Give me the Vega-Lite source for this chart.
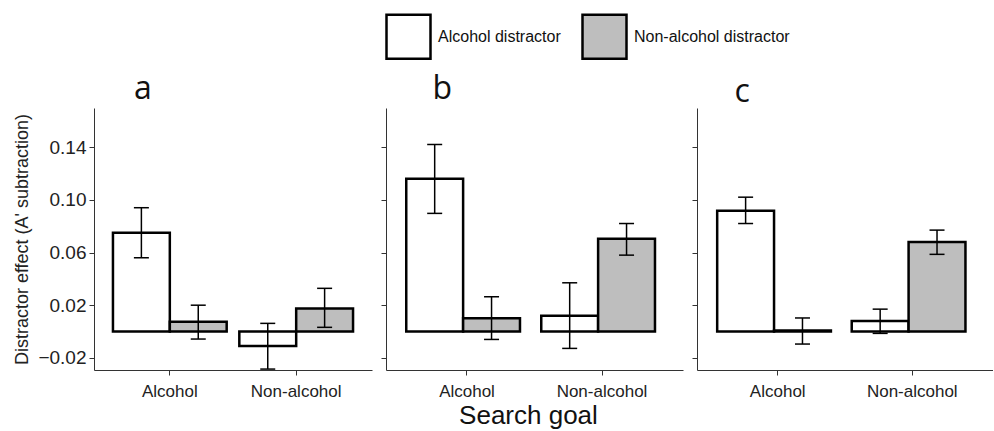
{
  "$schema": "https://vega.github.io/schema/vega-lite/v6.json",
  "background": "white",
  "padding": {"left": 13, "top": 13, "right": 0, "bottom": 0},
  "spacing": 8,
  "datasets": {
    "d": [
      {"panel": "a", "goal": "Alcohol", "distractor": "Alcohol distractor", "value": 0.075, "lo": 0.056, "hi": 0.094},
      {"panel": "a", "goal": "Alcohol", "distractor": "Non-alcohol distractor", "value": 0.0074, "lo": -0.0057, "hi": 0.020},
      {"panel": "a", "goal": "Non-alcohol", "distractor": "Alcohol distractor", "value": -0.011, "lo": -0.0285, "hi": 0.0062},
      {"panel": "a", "goal": "Non-alcohol", "distractor": "Non-alcohol distractor", "value": 0.0175, "lo": 0.0032, "hi": 0.0328},
      {"panel": "b", "goal": "Alcohol", "distractor": "Alcohol distractor", "value": 0.116, "lo": 0.0897, "hi": 0.142},
      {"panel": "b", "goal": "Alcohol", "distractor": "Non-alcohol distractor", "value": 0.010, "lo": -0.006, "hi": 0.0264},
      {"panel": "b", "goal": "Non-alcohol", "distractor": "Alcohol distractor", "value": 0.012, "lo": -0.0128, "hi": 0.037},
      {"panel": "b", "goal": "Non-alcohol", "distractor": "Non-alcohol distractor", "value": 0.0705, "lo": 0.058, "hi": 0.082},
      {"panel": "c", "goal": "Alcohol", "distractor": "Alcohol distractor", "value": 0.0917, "lo": 0.082, "hi": 0.102},
      {"panel": "c", "goal": "Alcohol", "distractor": "Non-alcohol distractor", "value": 0.0008, "lo": -0.0095, "hi": 0.0103},
      {"panel": "c", "goal": "Non-alcohol", "distractor": "Alcohol distractor", "value": 0.008, "lo": -0.0014, "hi": 0.017},
      {"panel": "c", "goal": "Non-alcohol", "distractor": "Non-alcohol distractor", "value": 0.068, "lo": 0.0586, "hi": 0.077}
    ]
  },
  "config": {
    "view": {"stroke": null},
    "font": "Liberation Sans",
    "axis": {
      "grid": false,
      "domainColor": "#333333",
      "tickColor": "#333333",
      "labelColor": "#222222",
      "titleColor": "#222222",
      "labelFont": "Liberation Sans",
      "titleFont": "Liberation Sans",
      "titleFontWeight": "normal",
      "tickSize": 5
    },
    "title": {"font": "Open Sans", "fontWeight": "normal", "fontSize": 32, "color": "#111111", "anchor": "start", "offset": 2},
    "legend": {
      "orient": "none",
      "legendX": 291,
      "legendY": -95,
      "direction": "horizontal",
      "symbolType": "square",
      "symbolSize": 1936,
      "symbolStrokeColor": "black",
      "symbolStrokeWidth": 2.5,
      "labelFontSize": 16,
      "labelFont": "Liberation Sans",
      "labelColor": "#111111",
      "labelOffset": 6,
      "columnPadding": 16,
      "title": null
    }
  },
  "resolve": {"scale": {"fill": "shared"}, "legend": {"fill": "shared"}},
  "title": {"text": "Search goal", "orient": "bottom", "anchor": "middle", "font": "Liberation Sans", "fontSize": 26, "fontWeight": "normal", "color": "#111111", "offset": 4, "dx": 25},
  "hconcat": [
    {
      "width": 278, "height": 262,
      "title": {"text": "a", "dx": 120},
      "data": {"name": "d"},
      "transform": [{"filter": "datum.panel == 'a'"}],
      "encoding": {
        "x": {"field": "goal", "type": "nominal", "sort": ["Alcohol", "Non-alcohol"], "scale": {"paddingInner": 0.1, "paddingOuter": 0.15}, "axis": {"title": null, "labelAngle": 0, "labelFontSize": 17, "labelPadding": 8}},
        "xOffset": {"field": "distractor", "type": "nominal", "sort": ["Alcohol distractor", "Non-alcohol distractor"]}
      },
      "layer": [
        {"mark": {"type": "bar", "stroke": "black", "strokeWidth": 2.5},
         "encoding": {
           "y": {"field": "value", "type": "quantitative", "scale": {"domain": [-0.0292, 0.1697], "nice": false, "zero": false}, "axis": {"values": [-0.02, 0.02, 0.06, 0.10, 0.14], "format": ".2f", "labelFontSize": 19, "title": "Distractor effect (A' subtraction)", "titleFontSize": 18, "titlePadding": 6, "labelPadding": 3}},
           "y2": {"datum": 0},
           "fill": {"field": "distractor", "type": "nominal", "scale": {"domain": ["Alcohol distractor", "Non-alcohol distractor"], "range": ["#ffffff", "#bebebe"]}}
         }},
        {"mark": {"type": "rule", "strokeWidth": 1.5, "color": "black"},
         "encoding": {"y": {"field": "lo", "type": "quantitative"}, "y2": {"field": "hi"}}},
        {"mark": {"type": "tick", "size": 15, "thickness": 1.5, "color": "black", "opacity": 1},
         "encoding": {"y": {"field": "lo", "type": "quantitative"}}},
        {"mark": {"type": "tick", "size": 15, "thickness": 1.5, "color": "black", "opacity": 1},
         "encoding": {"y": {"field": "hi", "type": "quantitative"}}}
      ]
    },
    {
      "width": 297, "height": 262,
      "title": {"text": "b", "dx": 52},
      "data": {"name": "d"},
      "transform": [{"filter": "datum.panel == 'b'"}],
      "encoding": {
        "x": {"field": "goal", "type": "nominal", "sort": ["Alcohol", "Non-alcohol"], "scale": {"paddingInner": 0.1, "paddingOuter": 0.15}, "axis": {"title": null, "labelAngle": 0, "labelFontSize": 17, "labelPadding": 8}},
        "xOffset": {"field": "distractor", "type": "nominal", "sort": ["Alcohol distractor", "Non-alcohol distractor"]}
      },
      "layer": [
        {"mark": {"type": "bar", "stroke": "black", "strokeWidth": 2.5},
         "encoding": {
           "y": {"field": "value", "type": "quantitative", "scale": {"domain": [-0.0292, 0.1697], "nice": false, "zero": false}, "axis": {"values": [-0.02, 0.02, 0.06, 0.10, 0.14], "labels": false, "title": null}},
           "y2": {"datum": 0},
           "fill": {"field": "distractor", "type": "nominal", "scale": {"domain": ["Alcohol distractor", "Non-alcohol distractor"], "range": ["#ffffff", "#bebebe"]}}
         }},
        {"mark": {"type": "rule", "strokeWidth": 1.5, "color": "black"},
         "encoding": {"y": {"field": "lo", "type": "quantitative"}, "y2": {"field": "hi"}}},
        {"mark": {"type": "tick", "size": 15, "thickness": 1.5, "color": "black", "opacity": 1},
         "encoding": {"y": {"field": "lo", "type": "quantitative"}}},
        {"mark": {"type": "tick", "size": 15, "thickness": 1.5, "color": "black", "opacity": 1},
         "encoding": {"y": {"field": "hi", "type": "quantitative"}}}
      ]
    },
    {
      "width": 296, "height": 262,
      "title": {"text": "c", "dx": 43, "offset": -1},
      "data": {"name": "d"},
      "transform": [{"filter": "datum.panel == 'c'"}],
      "encoding": {
        "x": {"field": "goal", "type": "nominal", "sort": ["Alcohol", "Non-alcohol"], "scale": {"paddingInner": 0.1, "paddingOuter": 0.15}, "axis": {"title": null, "labelAngle": 0, "labelFontSize": 17, "labelPadding": 8}},
        "xOffset": {"field": "distractor", "type": "nominal", "sort": ["Alcohol distractor", "Non-alcohol distractor"]}
      },
      "layer": [
        {"mark": {"type": "bar", "stroke": "black", "strokeWidth": 2.5},
         "encoding": {
           "y": {"field": "value", "type": "quantitative", "scale": {"domain": [-0.0292, 0.1697], "nice": false, "zero": false}, "axis": {"values": [-0.02, 0.02, 0.06, 0.10, 0.14], "labels": false, "title": null}},
           "y2": {"datum": 0},
           "fill": {"field": "distractor", "type": "nominal", "scale": {"domain": ["Alcohol distractor", "Non-alcohol distractor"], "range": ["#ffffff", "#bebebe"]}}
         }},
        {"mark": {"type": "rule", "strokeWidth": 1.5, "color": "black"},
         "encoding": {"y": {"field": "lo", "type": "quantitative"}, "y2": {"field": "hi"}}},
        {"mark": {"type": "tick", "size": 15, "thickness": 1.5, "color": "black", "opacity": 1},
         "encoding": {"y": {"field": "lo", "type": "quantitative"}}},
        {"mark": {"type": "tick", "size": 15, "thickness": 1.5, "color": "black", "opacity": 1},
         "encoding": {"y": {"field": "hi", "type": "quantitative"}}}
      ]
    }
  ]
}
